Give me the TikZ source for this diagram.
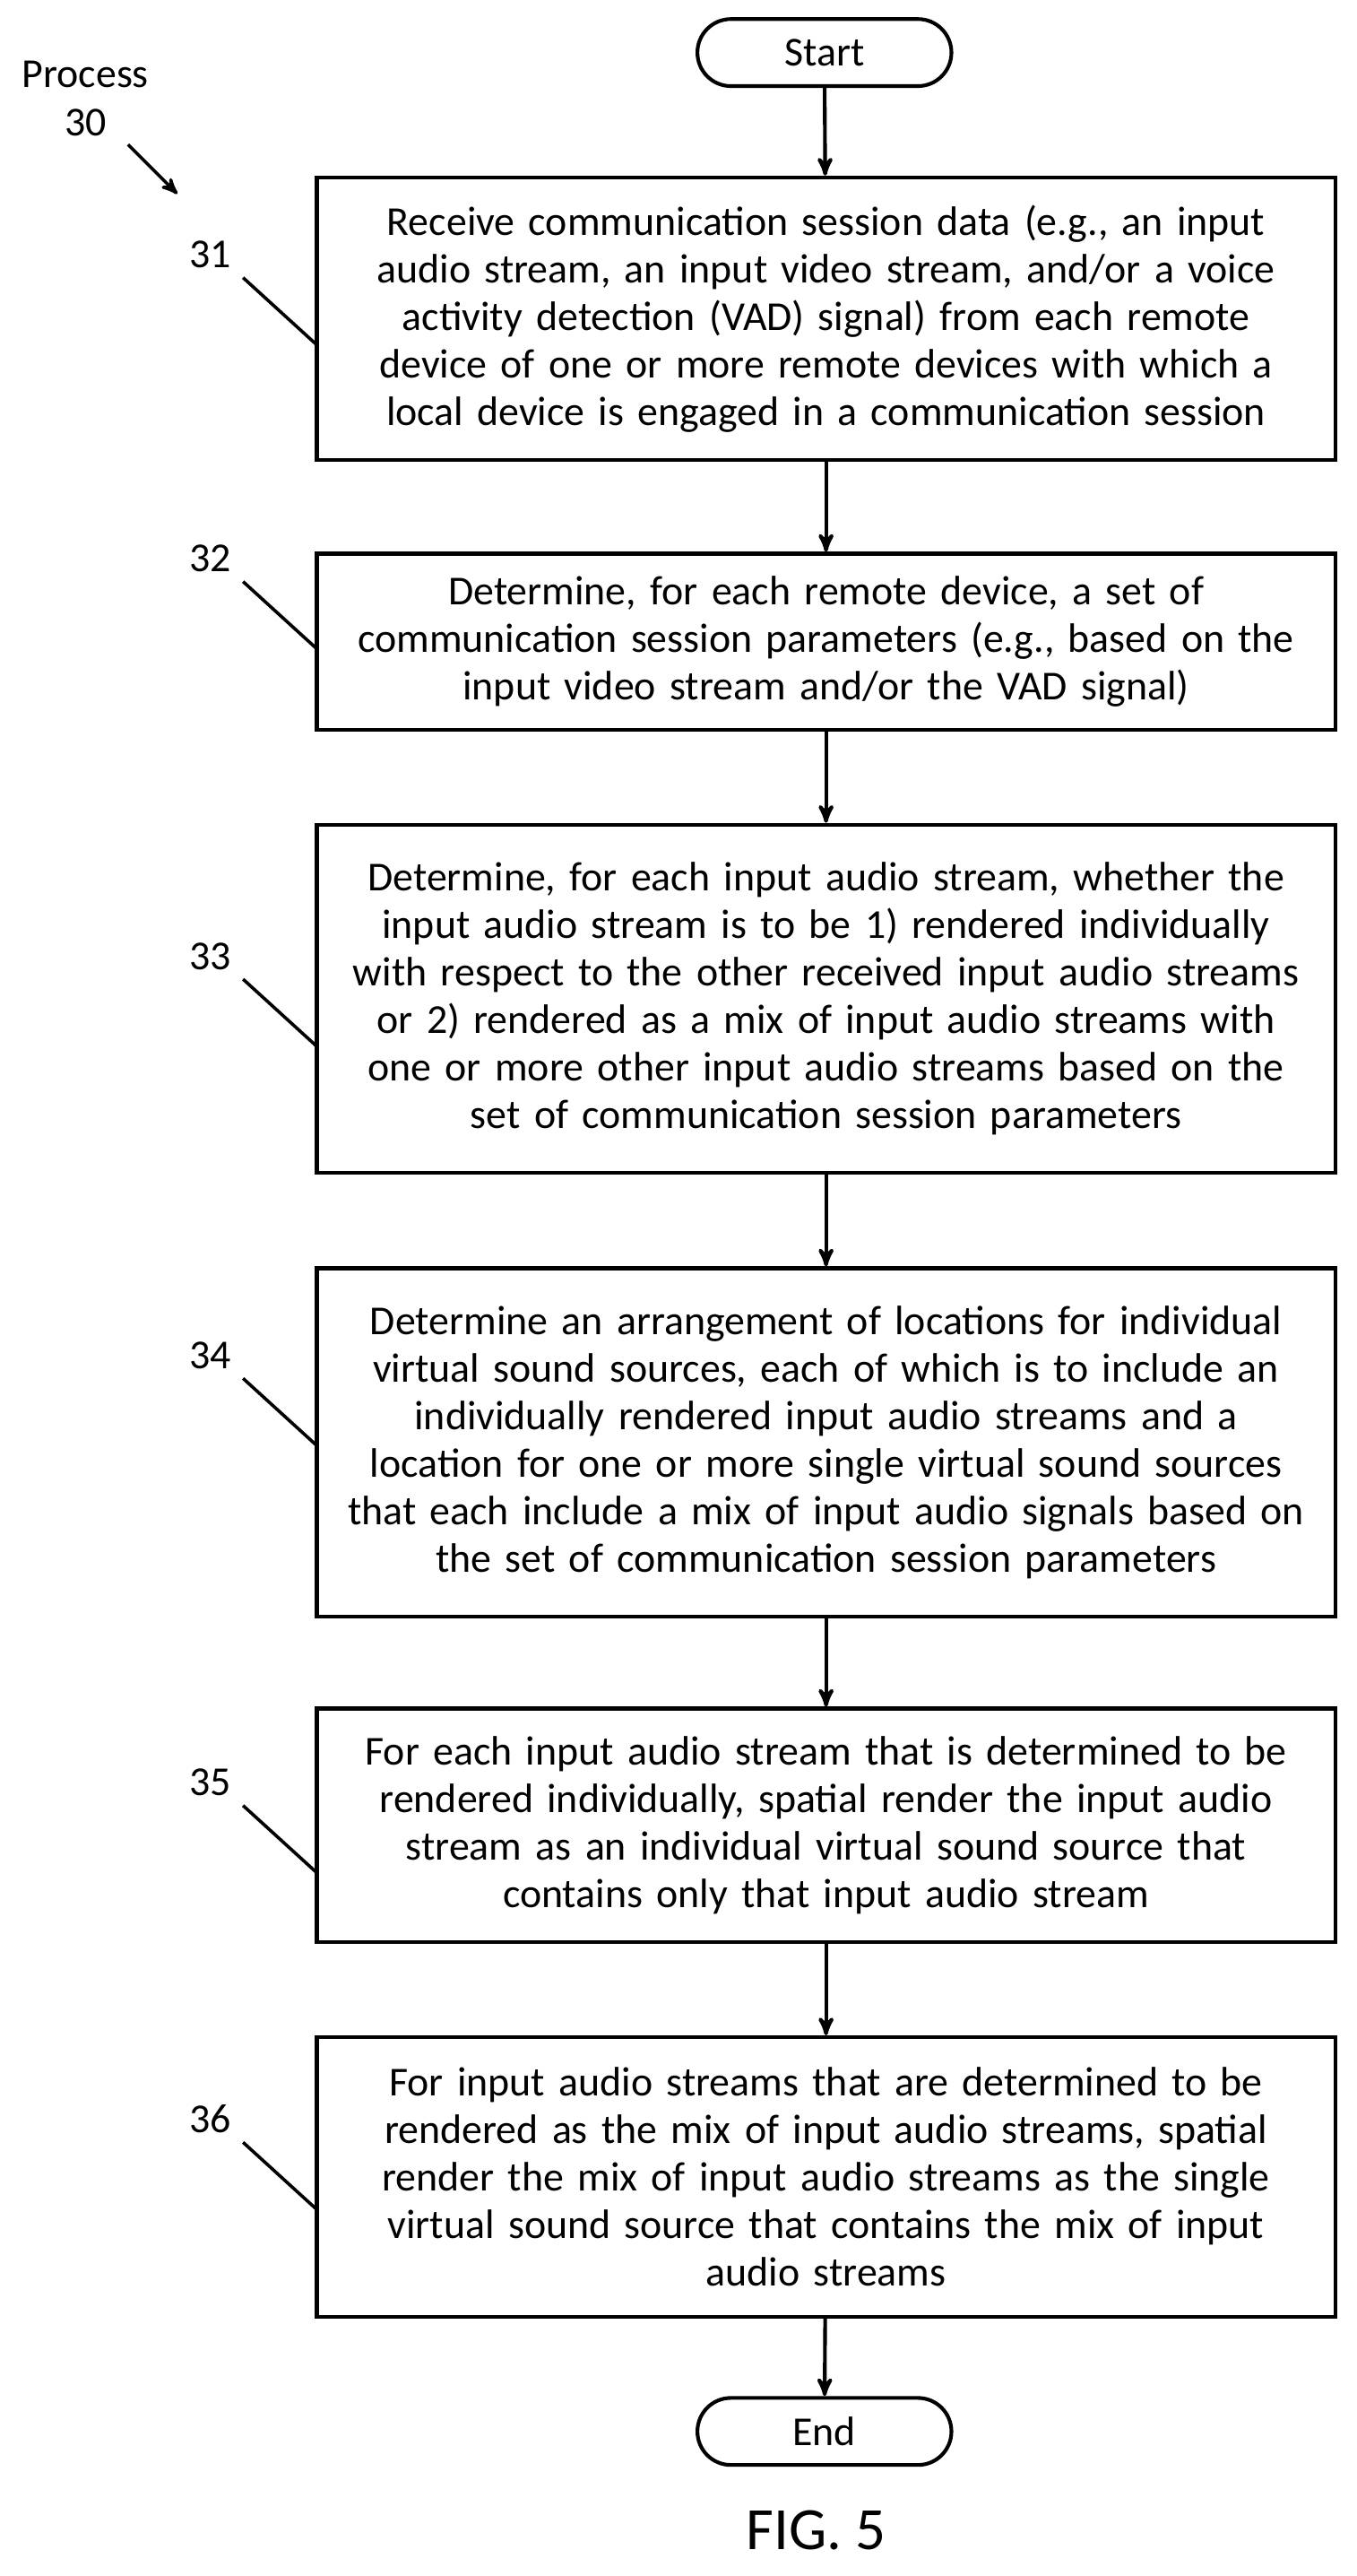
\documentclass[tikz,border=0pt]{standalone}
\usepackage{fontspec}
\setmainfont{Carlito}
\usetikzlibrary{arrows, positioning, shapes.misc}
\tikzset{->,>=stealth',thick,
    stepbox/.style={rectangle,draw,line width=1.6pt,minimum width=15.5cm,text width=15.4cm,
        align=center,font=\fontsize{17.8}{20.6}\selectfont,inner sep=0pt},
    term/.style={rounded rectangle,draw,line width=1.6pt,minimum width=4.1cm,minimum height=1.02cm,
        font=\fontsize{17.8}{20.6}\selectfont},
    refnum/.style={font=\fontsize{17.8}{20.6}\selectfont},
    leader/.style={-,line width=1.4pt}}

\begin{document}
\begin{tikzpicture}[x=0.025cm,y=-0.025cm]
\useasboundingbox (0,0) rectangle (826,1568);
\node[term] (start) at (502,32) {Start};
\node[stepbox,minimum height=4.3cm] (s31) at (503,194) {Receive communication session data (e.g., an input\\ audio stream, an input video stream, and/or a voice\\ activity detection (VAD) signal) from each remote\\ device of one or more remote devices with which a\\ local device is engaged in a communication session};
\node[stepbox,minimum height=2.675cm] (s32) at (503,390.5) {Determine, for each remote device, a set of\\ communication session parameters (e.g., based on the\\ input video stream and/or the VAD signal)};
\node[stepbox,minimum height=5.3cm] (s33) at (503,608) {Determine, for each input audio stream, whether the\\ input audio stream is to be 1) rendered individually\\ with respect to the other received input audio streams\\ or 2) rendered as a mix of input audio streams with\\ one or more other input audio streams based on the\\ set of communication session parameters};
\node[stepbox,minimum height=5.3cm] (s34) at (503,878) {Determine an arrangement of locations for individual\\ virtual sound sources, each of which is to include an\\ individually rendered input audio streams and a\\ location for one or more single virtual sound sources\\ that each include a mix of input audio signals based on\\ the set of communication session parameters};
\node[stepbox,minimum height=3.55cm] (s35) at (503,1111) {For each input audio stream that is determined to be\\ rendered individually, spatial render the input audio\\ stream as an individual virtual sound source that\\ contains only that input audio stream};
\node[stepbox,minimum height=4.25cm] (s36) at (503,1325) {For input audio streams that are determined to be\\ rendered as the mix of input audio streams, spatial\\ render the mix of input audio streams as the single\\ virtual sound source that contains the mix of input\\ audio streams};
\node[term] (end) at (502,1480) {End};
\node[font=\fontsize{26}{30}\selectfont] (fig) at (497,1540) {FIG. 5};

% flow
\foreach \a/\b in {start/s31,s31/s32,s32/s33,s33/s34,s34/s35,s35/s36,s36/end}
  \draw[line width=1.6pt] (\a) -- (\b);

% reference numerals
\node[refnum,align=center] (proc) at (52,60) {Process\\30};
\coordinate (pa) at (78,88);
\coordinate (pb) at (108,118);
\draw[line width=1.4pt] (pa) -- (pb);
\foreach \n/\y in {31/155,32/340,33/582,34/825,35/1085,36/1290}{
  \node[refnum] (r\n) at (128,\y) {\n};
  \coordinate (l\n) at (148,\y+14);
  \coordinate (e\n) at (193,\y+55);
  \draw[leader] (l\n) -- (e\n);
}
\end{tikzpicture}
\end{document}
